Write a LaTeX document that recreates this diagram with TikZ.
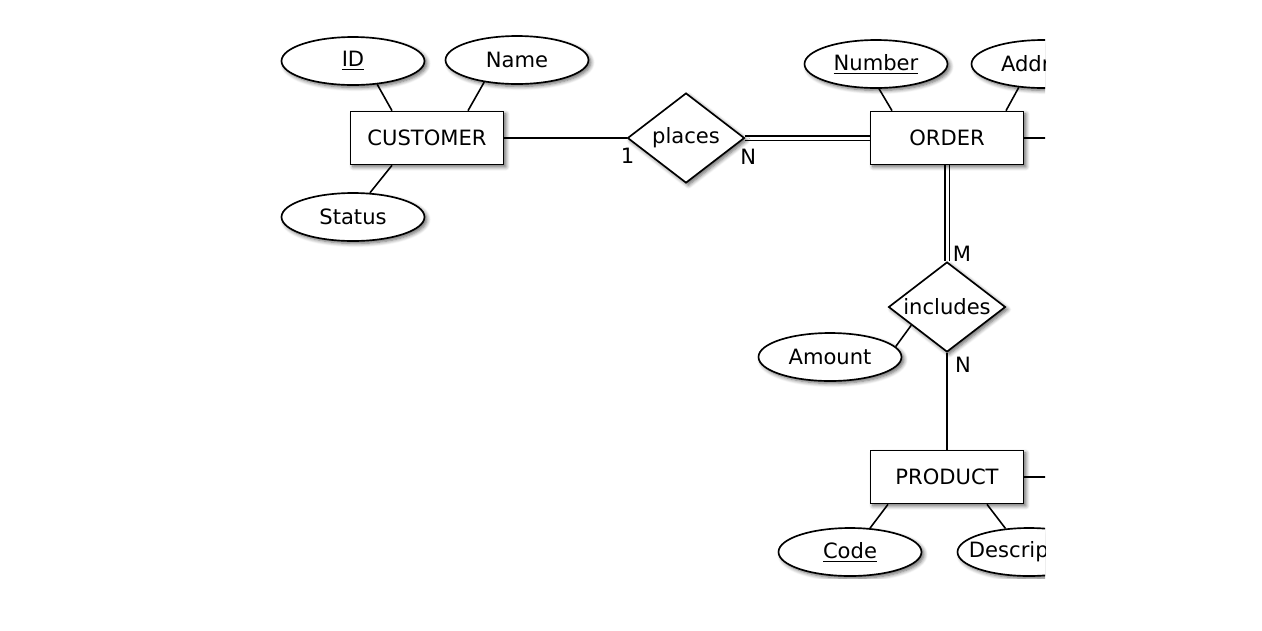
\documentclass[tikz,border=0pt]{standalone}
\usepackage{fontspec}
\setmainfont{DejaVu Sans}
\usetikzlibrary{shapes.geometric,positioning,calc,backgrounds,shadows.blur}
\tikzset{
  shade/.style={blur shadow={shadow xshift=1.4pt,shadow yshift=-1.4pt,
    shadow blur steps=6,shadow opacity=60}},
  entity/.style={rectangle,draw=black,fill=white,line width=0.95pt,
    minimum width=3.06cm,minimum height=1.06cm,inner sep=0pt,shade},
  attr/.style={ellipse,draw=black,fill=white,line width=0.95pt,
    minimum width=2.86cm,minimum height=0.96cm,inner sep=0pt,shade},
  rel/.style={diamond,draw=black,fill=white,line width=0.95pt,aspect=1.3,
    minimum width=2.34cm,minimum height=1.8cm,inner sep=0pt,shade},
  card/.style={inner sep=0pt},
  conn/.style={line width=0.9pt},
  dconn/.style={draw=black,double=white,double distance=1.7pt,line width=0.75pt},
}

\begin{document}
\begin{tikzpicture}[x=0.02cm,y=-0.02cm,font=\fontsize{12}{14}\selectfont]
  \useasboundingbox (0,0) rectangle (1262,630);
  \begin{scope}
  \clip (0,0) rectangle (1045,578);
  % entities and relationships
  \node[entity] (customer) at (427,138) {CUSTOMER};
  \node[entity] (order)    at (947,138) {ORDER};
  \node[entity] (product)  at (947,477) {PRODUCT};
  \node[rel] (places)   at (686,138) {places};
  \node[rel] (includes) at (947,307) {includes};
  % attributes
  \node[attr] (id)      at (353,61)  {\underline{ID}};
  \node[attr] (name)    at (517,60)  {Name};
  \node[attr] (status)  at (353,217) {Status};
  \node[attr] (number)  at (876,64)  {\underline{Number}};
  \node[attr] (address) at (1043,64) {Address};
  \node[attr] (amount)  at (830,357) {Amount};
  \node[attr] (code)    at (850,552) {\underline{Code}};
  \node[attr] (descr)   at (1029,552) {\makebox[0pt]{Description}};
  \coordinate (orderout)   at (1070,138);
  \coordinate (productout) at (1070,477);
  % cardinalities
  \node[card] (c1)  at ($(places.west)+(1,18)$)    {1};
  \node[card] (cn1) at ($(places.east)+(3,19)$)    {N};
  \node[card] (cm)  at ($(includes.north)+(15,-7)$) {M};
  \node[card] (cn2) at ($(includes.south)+(16,12)$) {N};
  \end{scope}
  \begin{scope}[on background layer]
  \clip (0,0) rectangle (1045,578);
  \draw[conn]  (customer.east) -- (places.west);
  \draw[dconn] (places.east) -- (order.west);
  \draw[dconn] (order.south) -- (includes.north);
  \draw[conn]  (includes.south) -- (product.north);
  \draw[conn]  (amount.9) -- (includes.207);
  \draw[conn]  (id.-44) -- ($(customer.north)+(-35,0)$);
  \draw[conn]  (name.-146) -- ($(customer.north)+(41,0)$);
  \draw[conn]  (status.55) -- ($(customer.south)+(-35,0)$);
  \draw[conn]  (number.-83) -- ($(order.north)+(-55,0)$);
  \draw[conn]  (address.-136) -- ($(order.north)+(59,0)$);
  \draw[conn]  (code.50) -- ($(product.south)+(-59,0)$);
  \draw[conn]  (descr.135) -- ($(product.south)+(40,0)$);
  \draw[conn]  (order.east) -- (orderout);
  \draw[conn]  (product.east) -- (productout);
  \end{scope}
\end{tikzpicture}
\end{document}
